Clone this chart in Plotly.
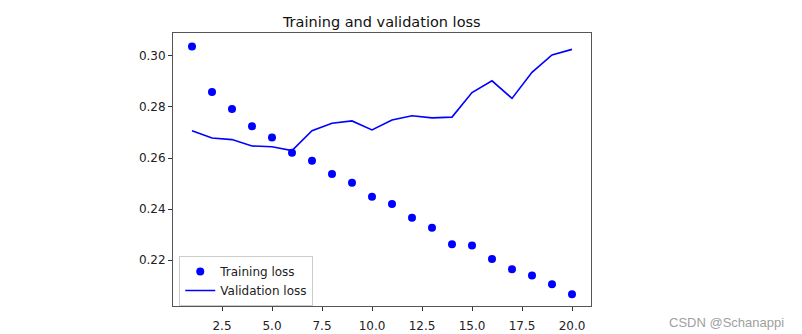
import plotly.graph_objects as go

epochs = list(range(1, 21))
training_loss = [0.3036, 0.2858, 0.2792, 0.2724, 0.2680, 0.2621, 0.2589, 0.2537,
                 0.2503, 0.2448, 0.2420, 0.2366, 0.2327, 0.2263, 0.2258, 0.2205,
                 0.2165, 0.2140, 0.2106, 0.2067]
validation_loss = [0.2707, 0.2678, 0.2672, 0.2647, 0.2644, 0.2629, 0.2707, 0.2736,
                   0.2745, 0.2710, 0.2749, 0.2765, 0.2757, 0.2760, 0.2856, 0.2902,
                   0.2833, 0.2935, 0.3003, 0.3025]
x_ticks = [2.5, 5.0, 7.5, 10.0, 12.5, 15.0, 17.5, 20.0]
y_ticks = [0.22, 0.24, 0.26, 0.28, 0.30]

fig = go.Figure()
fig.add_trace(go.Scatter(x=epochs, y=training_loss, mode="markers", name="Training loss",
                         marker=dict(color="#0000ff", size=8)))
fig.add_trace(go.Scatter(x=epochs, y=validation_loss, mode="lines", name="Validation loss",
                         line=dict(color="#0000ff", width=1.6)))

font = "DejaVu Sans"
axis_common = dict(showline=True, linecolor="#555", linewidth=1, mirror=True,
                   ticks="outside", ticklen=4, tickcolor="#333", showgrid=False,
                   zeroline=False, automargin=False,
                   tickfont=dict(family=font, size=12, color="#222"))

fig.update_layout(
    width=802, height=334,
    margin=dict(l=173, r=211, t=33, b=28, autoexpand=False),
    paper_bgcolor="white", plot_bgcolor="white",
    title=dict(text="Training and validation loss", x=0.476, xanchor="center",
               y=0.935, yanchor="middle", font=dict(family=font, size=14.5, color="#111")),
    xaxis=dict(range=[0.05, 20.95], tickvals=x_ticks, ticklabelstandoff=5,
               ticktext=[f"{v:.1f}" for v in x_ticks], **axis_common),
    yaxis=dict(range=[0.2021, 0.3089], tickvals=y_ticks,
               ticktext=[f"{v:.2f}" for v in y_ticks], **axis_common),
    legend=dict(x=0.015, y=0.0, xanchor="left", yanchor="bottom",
                bgcolor="rgba(255,255,255,0.8)", bordercolor="#ccc", borderwidth=1,
                font=dict(family=font, size=12, color="#222"),
                itemwidth=30, tracegroupgap=0),
    showlegend=True,
    annotations=[dict(text="CSDN @Schanappi", xref="paper", yref="paper",
                      x=(726 - 173) / 418, y=-(322 - 305.7) / 272.7,
                      xanchor="center", yanchor="middle", showarrow=False,
                      font=dict(family="Liberation Sans", size=13, color="#a0a0a0"))],
)

fig.write_html("out.html")
